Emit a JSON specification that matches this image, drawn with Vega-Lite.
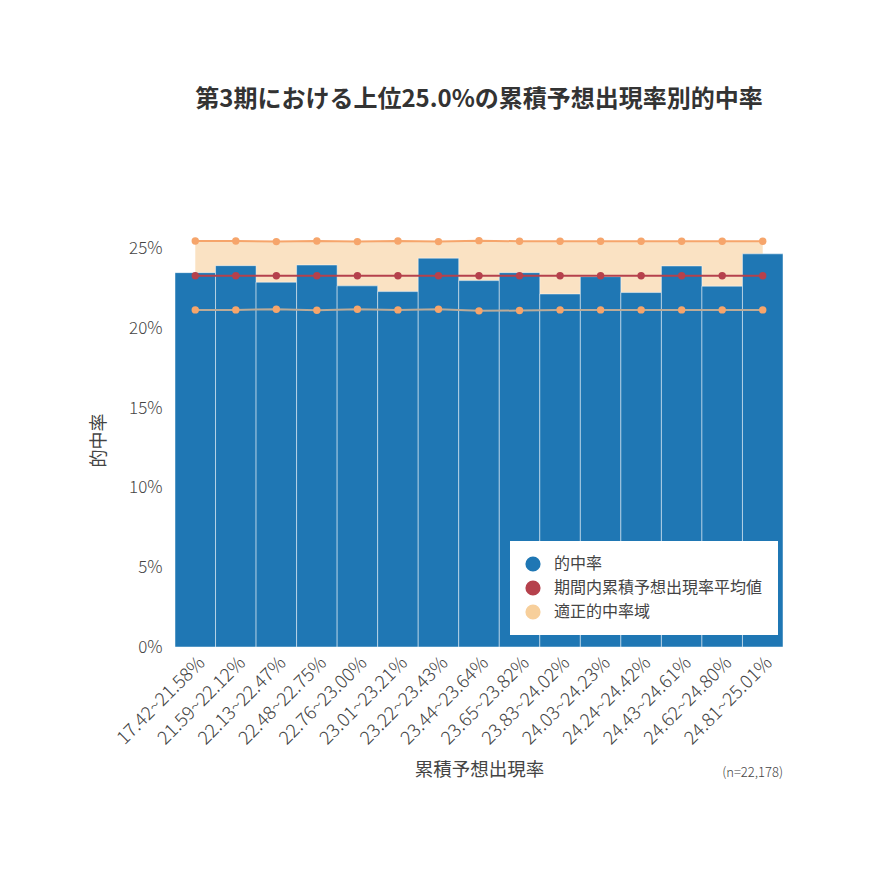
{
  "$schema": "https://vega.github.io/schema/vega-lite/v6.json",
  "width": 608,
  "height": 414,
  "autosize": {"type": "none"},
  "padding": {"left": 175, "top": 233, "right": 87, "bottom": 223},
  "background": "white",
  "title": {
    "text": "第3期における上位25.0%の累積予想出現率別的中率",
    "fontSize": 24,
    "fontWeight": "bold",
    "color": "#333333",
    "font": "Noto Sans CJK JP",
    "anchor": "middle",
    "offset": 121
  },
  "config": {
    "view": {"stroke": null},
    "font": "Noto Sans CJK JP"
  },
  "data": {
    "values": [
      {"bin": "17.42~21.58%", "rate": 0.2351, "avg": 0.2332, "lower": 0.2117, "upper": 0.2550},
      {"bin": "21.59~22.12%", "rate": 0.2395, "avg": 0.2332, "lower": 0.2117, "upper": 0.2550},
      {"bin": "22.13~22.47%", "rate": 0.2291, "avg": 0.2332, "lower": 0.2121, "upper": 0.2546},
      {"bin": "22.48~22.75%", "rate": 0.2399, "avg": 0.2332, "lower": 0.2115, "upper": 0.2550},
      {"bin": "22.76~23.00%", "rate": 0.2268, "avg": 0.2332, "lower": 0.2121, "upper": 0.2546},
      {"bin": "23.01~23.21%", "rate": 0.2232, "avg": 0.2332, "lower": 0.2117, "upper": 0.2550},
      {"bin": "23.22~23.43%", "rate": 0.2442, "avg": 0.2332, "lower": 0.2121, "upper": 0.2546},
      {"bin": "23.44~23.64%", "rate": 0.2301, "avg": 0.2332, "lower": 0.2111, "upper": 0.2552},
      {"bin": "23.65~23.82%", "rate": 0.2351, "avg": 0.2332, "lower": 0.2113, "upper": 0.2548},
      {"bin": "23.83~24.02%", "rate": 0.2217, "avg": 0.2332, "lower": 0.2117, "upper": 0.2548},
      {"bin": "24.03~24.23%", "rate": 0.2326, "avg": 0.2332, "lower": 0.2117, "upper": 0.2548},
      {"bin": "24.24~24.42%", "rate": 0.2226, "avg": 0.2332, "lower": 0.2117, "upper": 0.2548},
      {"bin": "24.43~24.61%", "rate": 0.2393, "avg": 0.2332, "lower": 0.2117, "upper": 0.2548},
      {"bin": "24.62~24.80%", "rate": 0.2266, "avg": 0.2332, "lower": 0.2117, "upper": 0.2548},
      {"bin": "24.81~25.01%", "rate": 0.2469, "avg": 0.2332, "lower": 0.2117, "upper": 0.2548}
    ]
  },
  "encoding": {
    "x": {
      "field": "bin",
      "type": "ordinal",
      "sort": null,
      "scale": {"paddingInner": 0, "paddingOuter": 0},
      "axis": {
        "title": "累積予想出現率",
        "titleFontSize": 18.5,
        "titleFontWeight": "normal",
        "titleColor": "#444444",
        "titlePadding": 13,
        "labelAngle": -45,
        "labelFontSize": 18.5,
        "labelFontWeight": 300,
        "labelColor": "#444444",
        "labelPadding": 6,
        "labelLimit": 0,
        "ticks": false,
        "domain": false,
        "grid": false
      }
    }
  },
  "layer": [
    {
      "mark": {"type": "area", "opacity": 0.6},
      "encoding": {
        "y": {
          "field": "lower",
          "type": "quantitative",
          "scale": {"domain": [0, 0.26]},
          "axis": {
            "values": [0, 0.05, 0.1, 0.15, 0.2, 0.25],
            "format": ".0%",
            "title": "的中率",
            "titleFontSize": 18,
            "titleFontWeight": "normal",
            "titleColor": "#444444",
            "titlePadding": 20,
            "labelFontSize": 17,
            "labelFontWeight": 300,
            "labelColor": "#444444",
            "labelPadding": 13,
            "ticks": false,
            "domain": false,
            "grid": false
          }
        },
        "y2": {"field": "upper"},
        "color": {
          "datum": "適正的中率域",
          "scale": {
            "domain": ["的中率", "期間内累積予想出現率平均値", "適正的中率域"],
            "range": ["#1f77b4", "#b5414c", "#f7cf9b"]
          },
          "legend": {
            "title": null,
            "orient": "none",
            "legendX": 335,
            "legendY": 308,
            "fillColor": "white",
            "padding": 15,
            "labelFontSize": 16,
            "labelColor": "#444444",
            "labelOffset": 13,
            "labelLimit": 0,
            "symbolType": "circle",
            "symbolSize": 230,
            "symbolOpacity": 1,
            "symbolStrokeWidth": 0,
            "rowPadding": 8
          }
        }
      }
    },
    {
      "mark": {"type": "bar", "stroke": "#ffffff", "strokeWidth": 0.8, "strokeOpacity": 0.6},
      "encoding": {
        "y": {"field": "rate", "type": "quantitative"},
        "color": {"datum": "的中率"}
      }
    },
    {
      "mark": {"type": "line", "color": "#bcab98", "strokeWidth": 2},
      "encoding": {"y": {"field": "lower", "type": "quantitative"}}
    },
    {
      "mark": {"type": "point", "filled": true, "opacity": 1, "size": 55, "color": "#f6a56b"},
      "encoding": {"y": {"field": "lower", "type": "quantitative"}}
    },
    {
      "mark": {"type": "line", "color": "#f6a56b", "strokeWidth": 2, "point": {"filled": true, "size": 55, "opacity": 1, "color": "#f6a56b"}},
      "encoding": {"y": {"field": "upper", "type": "quantitative"}}
    },
    {
      "mark": {"type": "line", "strokeWidth": 2, "point": {"filled": true, "size": 55, "opacity": 1}},
      "encoding": {
        "y": {"field": "avg", "type": "quantitative"},
        "color": {"datum": "期間内累積予想出現率平均値"}
      }
    },
    {
      "data": {"values": [{"note": "(n=22,178)"}]},
      "mark": {"type": "text", "align": "right", "baseline": "middle", "dy": 126, "fontSize": 13, "fontWeight": 300, "color": "#444444"},
      "encoding": {
        "x": {"datum": "24.81~25.01%", "bandPosition": 1},
        "y": {"datum": 0},
        "text": {"field": "note"}
      }
    }
  ]
}
